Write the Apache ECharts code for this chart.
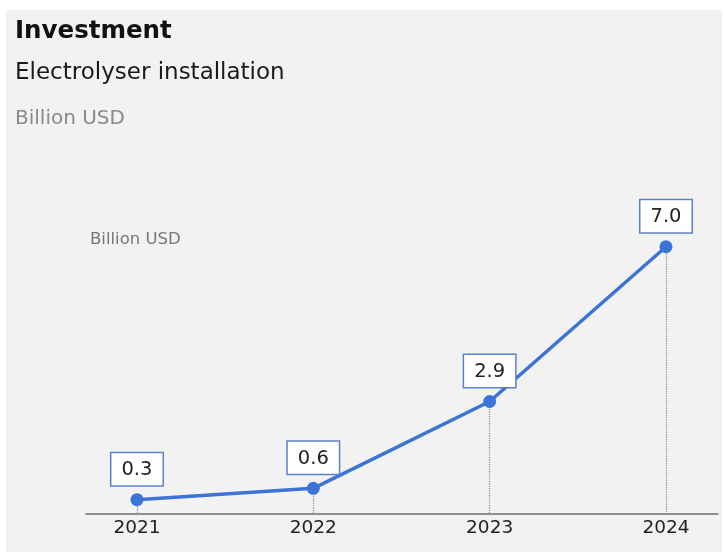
<!DOCTYPE html>
<html>
<head>
<meta charset="utf-8">
<title>Investment – Electrolyser installation</title>
<script src="https://cdn.jsdelivr.net/npm/echarts@6/dist/echarts.min.js"></script>
<style>
  html, body { margin: 0; padding: 0; background: #ffffff; }
  #chart { width: 724px; height: 552px; }
</style>
</head>
<body>
<div id="chart"></div>
<script>
// Electrolyser installation investment, billion USD
const years = [2021, 2022, 2023, 2024];
const investment = [0.3, 0.6, 2.9, 7.0];
const yearLabels = ['2021', '2022', '2023', '2024'];

const FONT = '"DejaVu Sans", Inter, sans-serif';
const BLUE = '#3b73d6';

const points = years.map((y, i) => [y, investment[i]]);
const Y_MIN = -0.08;

// dotted drop lines from each point down to the axis
const dropLines = points.map(p => [
  { coord: [p[0], p[1]] },
  { coord: [p[0], Y_MIN] }
]);

const chart = echarts.init(document.getElementById('chart'), null, { renderer: 'canvas' });

chart.setOption({
  backgroundColor: '#ffffff',
  animation: false,
  graphic: [{
    type: 'rect',
    z: -10,
    silent: true,
    shape: { x: 6, y: 10, width: 716, height: 542 },
    style: { fill: '#f2f2f2' }
  }],
  title: [
    {
      text: 'Investment', left: 10, top: 14,
      textStyle: { fontFamily: FONT, fontSize: 24.5, fontWeight: 'bold', color: '#111111' }
    },
    {
      text: 'Electrolyser installation', left: 10, top: 57,
      textStyle: { fontFamily: FONT, fontSize: 23, fontWeight: 'normal', color: '#1a1a1a' }
    },
    {
      text: 'Billion USD', left: 10, top: 104,
      textStyle: { fontFamily: FONT, fontSize: 20, fontWeight: 'normal', color: '#8a8a8a' }
    },
    {
      text: 'Billion USD', left: 85, top: 226,
      textStyle: { fontFamily: FONT, fontSize: 16.5, fontWeight: 'normal', color: '#777777' }
    }
  ],
  grid: { left: 86, right: 6, top: 209, bottom: 38 },
  xAxis: {
    type: 'value',
    min: 2020.711,
    max: 2024.295,
    splitLine: { show: false },
    axisLine: { show: true, onZero: false, lineStyle: { color: '#6f6f6f', width: 1.5 } },
    axisTick: { show: false },
    axisLabel: {
      customValues: years,
      formatter: v => yearLabels[years.indexOf(Math.round(v))] || '',
      fontFamily: FONT, fontSize: 18.5, color: '#222222', margin: 5
    }
  },
  yAxis: {
    type: 'value',
    min: Y_MIN,
    max: 8,
    show: false,
    splitLine: { show: false }
  },
  series: [{
    type: 'line',
    data: points,
    symbol: 'circle',
    symbolSize: 13,
    lineStyle: { color: BLUE, width: 3.5 },
    itemStyle: { color: BLUE },
    z: 5,
    label: {
      show: true,
      position: 'top',
      distance: 8,
      formatter: p => p.value[1].toFixed(1),
      fontFamily: FONT,
      fontSize: 19.5,
      color: '#222222',
      backgroundColor: '#ffffff',
      borderColor: '#5b82c8',
      borderWidth: 1.5,
      padding: [7, 10, 5, 10]
    },
    markLine: {
      silent: true,
      symbol: 'none',
      label: { show: false },
      lineStyle: { color: '#8c8c8c', type: 'dotted', width: 1.2 },
      data: dropLines,
      z: 1
    }
  }]
});
</script>
</body>
</html>
